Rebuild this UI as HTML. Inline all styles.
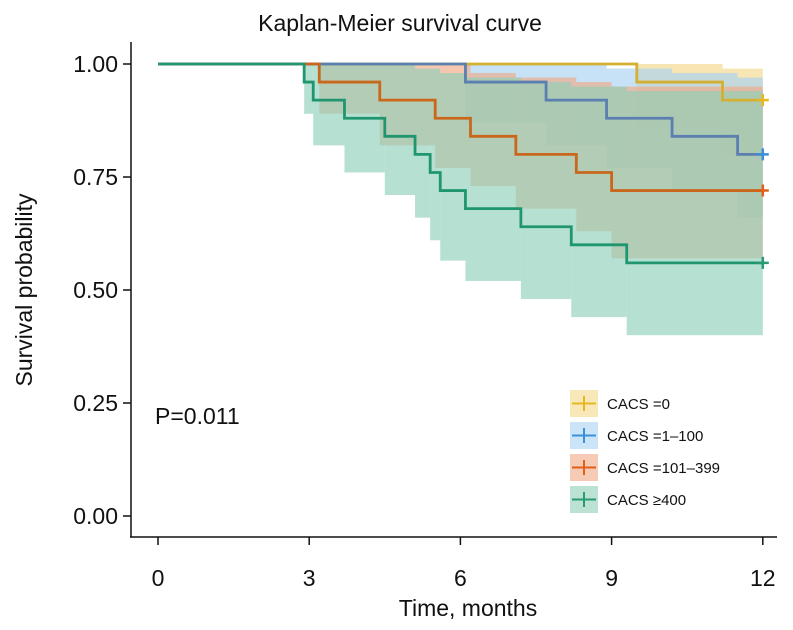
<!DOCTYPE html>
<html><head><meta charset="utf-8"><style>
html,body{margin:0;padding:0;background:#fff;}
svg{display:block;font-family:"Liberation Sans",sans-serif;}
</style></head><body>
<svg id="chart" width="793" height="630" viewBox="0 0 793 630">
<text x="400" y="31" text-anchor="middle" font-size="23" fill="#111">Kaplan-Meier survival curve</text>
<g id="bands"></g>
<g id="lines"></g>
<g id="axes">
<line x1="131" y1="42" x2="131" y2="537" stroke="#111" stroke-width="1.5"/>
<line x1="130" y1="537" x2="777" y2="537" stroke="#111" stroke-width="1.5"/>
</g>
<text x="32" y="290" transform="rotate(-90 32 290)" text-anchor="middle" font-size="23" fill="#111">Survival probability</text>
<text x="468" y="616" text-anchor="middle" font-size="23" fill="#111">Time, months</text>
<text x="155" y="424" font-size="23" fill="#111">P=0.011</text>
<g id="legend"></g>
</svg>
<script>
const xTicks=[0,3,6,9,12];
const yTicks=[0,0.25,0.5,0.75,1];
const yTickLabels=["0.00","0.25","0.50","0.75","1.00"];
const seriesNames=["CACS =0","CACS =1–100","CACS =101–399","CACS ≥400"];
const colors=["#d4b032","#5b7fb0","#c9671c","#1f9670"];
const markColors=["#e6b820","#3d8fd8","#e0601a","#2a9a72"];
const fills=["#f3d98a","#a9d2f2","#f0a985","#8fcfb8"];
// step times and survival values
const t0=[0,9.5,11.2]; const s0=[1,0.96,0.92];
const t1=[0,6.1,7.7,8.9,10.2,11.5]; const s1=[1,0.96,0.92,0.88,0.84,0.80];
const t2=[0,3.2,4.4,5.5,6.2,7.1,8.3,9.0]; const s2=[1,0.96,0.92,0.88,0.84,0.80,0.76,0.72];
const t3=[0,2.9,3.08,3.7,4.5,5.1,5.4,5.6,6.1,7.2,8.2,9.3]; const s3=[1,0.96,0.92,0.88,0.84,0.80,0.76,0.72,0.68,0.64,0.60,0.56];
// confidence bounds per step
const lo0=[1,0.86,0.80]; const hi0=[1,1,0.99];
const lo1=[1,0.87,0.82,0.77,0.72,0.66]; const hi1=[1,1,1,0.99,0.98,0.97];
const lo2=[1,0.89,0.82,0.77,0.73,0.68,0.63,0.57]; const hi2=[1,1,1,1,0.98,0.97,0.96,0.95];
const lo3=[1,0.89,0.82,0.76,0.71,0.66,0.61,0.565,0.52,0.48,0.44,0.40]; const hi3=[1,1,1,1,1,0.99,0.99,0.98,0.97,0.96,0.95,0.94];
const T=[t0,t1,t2,t3],S=[s0,s1,s2,s3],LO=[lo0,lo1,lo2,lo3],HI=[hi0,hi1,hi2,hi3];
const tEnd=12;
const X=v=>158+v*50.4, Y=v=>516-v*452;
const NS="http://www.w3.org/2000/svg";
function mk(tag,attrs,parent){const e=document.createElementNS(NS,tag);for(const k in attrs)e.setAttribute(k,attrs[k]);parent.appendChild(e);return e;}
const axes=document.getElementById('axes');
xTicks.forEach(v=>{
 const l=mk('line',{x1:X(v),x2:X(v),y1:537,y2:545,stroke:'#111','stroke-width':1.5},axes);
 
 
 const t=mk('text',{x:X(v),y:586,'text-anchor':'middle','font-size':23,fill:'#111'},axes);t.textContent=v;
 
 
});
yTicks.forEach((v,i)=>{
 const l=mk('line',{x1:123,x2:131,y1:Y(v),y2:Y(v),stroke:'#111','stroke-width':1.5},axes);
 
 
 const t=mk('text',{x:118,y:Y(v)+8,'text-anchor':'end','font-size':23,fill:'#111'},axes);t.textContent=yTickLabels[i];
 
 
});
const bands=document.getElementById('bands'),lines=document.getElementById('lines');
for(let k=0;k<4;k++){
 const t=T[k],lo=LO[k],hi=HI[k],s=S[k];
 for(let i=0;i<t.length;i++){
  const x1=X(t[i]),x2=X(i+1<t.length?t[i+1]:tEnd);
  const r=mk('rect',{x:x1,y:Y(hi[i]),width:x2-x1,height:Y(lo[i])-Y(hi[i]),fill:fills[k],opacity:0.65},bands);
  
  
 }
 let d='M'+X(t[0])+','+Y(s[0]);
 for(let i=1;i<t.length;i++){d+=' H'+X(t[i])+' V'+Y(s[i]);}
 d+=' H'+X(tEnd);
 const p=mk('path',{d:d,fill:'none',stroke:colors[k],'stroke-width':2.8},lines);
 
 
 const ys=Y(s[s.length-1]);
 const c=mk('path',{d:`M${X(tEnd)-6},${ys} h12 M${X(tEnd)},${ys-6} v12`,stroke:markColors[k],'stroke-width':2.5},lines);
 
 
}
const lg=document.getElementById('legend');
seriesNames.forEach((n,k)=>{
 const y=390+k*32;
 const g=mk('g',{},lg);
 
 
 mk('rect',{x:570,y:y,width:28,height:27,fill:fills[k],opacity:0.6},g);
 mk('path',{d:`M572,${y+13.5} h24 M584,${y+6} v15`,stroke:markColors[k],'stroke-width':2},g);
 const t=mk('text',{x:607,y:y+19,'font-size':15,fill:'#111'},g);t.textContent=n;
});
</script>
</body></html>
